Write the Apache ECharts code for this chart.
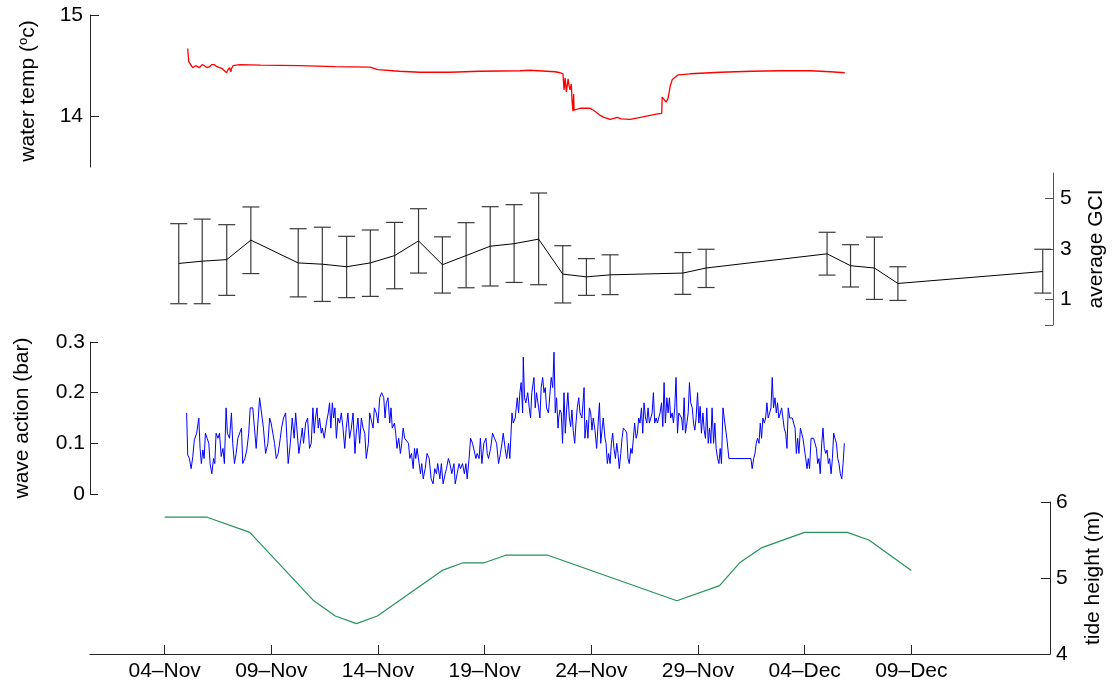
<!DOCTYPE html>
<html>
<head>
<meta charset="utf-8">
<script src="https://cdn.jsdelivr.net/npm/echarts@6/dist/echarts.min.js"></script>
<style>
html,body{margin:0;padding:0;background:#fff;}
#chart{width:1117px;height:686px;}
</style>
</head>
<body>
<div id="chart"></div>
<script>
// x values are days since 04-Nov 00:00
const xMin = -3.5, xMax = 41.5;
const tickDays = [0, 5, 10, 15, 20, 25, 30, 35];
const tickLabels = ['04\u2013Nov', '09\u2013Nov', '14\u2013Nov', '19\u2013Nov', '24\u2013Nov', '29\u2013Nov', '04\u2013Dec', '09\u2013Dec'];

// water temperature (deg C)
const tempDays = [1.08,1.13,1.20,1.31,1.45,1.63,1.75,1.86,2.00,2.10,2.20,2.33,2.45,2.57,2.70,2.80,2.90,2.97,3.04,3.10,3.13,3.20,3.27,3.51,4.5,6.32,8.0,9.62,9.99,11.0,11.96,13.37,14.77,16.65,17.12,18.30,18.55,18.67,18.72,18.77,18.83,18.91,18.96,19.00,19.06,19.10,19.14,19.17,19.19,19.28,19.50,19.94,20.1,20.41,20.6,20.88,21.05,21.21,21.4,21.82,22.3,22.76,23.10,23.30,23.32,23.40,23.51,23.60,23.70,23.79,23.90,24.07,24.63,26.04,27.5,28.86,30.27,31.2,31.88];
const tempVals = [14.67,14.54,14.53,14.48,14.50,14.48,14.51,14.50,14.48,14.49,14.51,14.51,14.49,14.48,14.47,14.45,14.43,14.46,14.48,14.44,14.47,14.50,14.50,14.51,14.505,14.50,14.49,14.485,14.46,14.445,14.435,14.435,14.445,14.45,14.455,14.44,14.43,14.42,14.26,14.38,14.24,14.37,14.30,14.26,14.32,14.14,14.05,14.22,14.06,14.06,14.08,14.08,14.06,14.01,13.99,13.97,13.98,13.99,13.975,13.97,13.99,14.01,14.025,14.03,14.19,14.17,14.14,14.18,14.30,14.36,14.38,14.41,14.42,14.435,14.445,14.45,14.45,14.44,14.43];

// average GCI with error bar limits
const gciDays = [0.66,1.76,2.91,4.04,6.26,7.39,8.53,9.64,10.78,11.90,13.02,14.13,15.26,16.38,17.53,18.66,19.77,20.88,24.29,25.38,31.05,32.15,33.27,34.37,41.16];
const gciMean = [2.43,2.52,2.58,3.35,2.45,2.40,2.30,2.45,2.74,3.32,2.38,2.74,3.11,3.21,3.39,2.01,1.90,1.98,2.05,2.25,2.81,2.34,2.25,1.64,2.11];
const gciHigh = [4.00,4.18,3.96,4.66,3.80,3.86,3.50,3.75,4.05,4.59,3.48,4.04,4.67,4.75,5.21,3.13,2.62,2.77,2.86,2.99,3.66,3.17,3.47,2.30,2.99];
const gciLow  = [0.84,0.84,1.17,2.03,1.11,0.93,1.08,1.13,1.43,2.05,1.26,1.47,1.54,1.68,1.59,0.87,1.17,1.20,1.21,1.48,1.97,1.50,1.01,0.97,1.26];

// wave action (bar)
const waveDays = [1.03,1.08,1.16,1.24,1.32,1.39,1.50,1.60,1.66,1.72,1.79,1.85,1.91,1.99,2.07,2.13,2.21,2.29,2.35,2.41,2.50,2.57,2.65,2.73,2.80,2.88,2.94,3.04,3.13,3.19,3.27,3.35,3.43,3.51,3.60,3.66,3.76,3.85,3.94,4.01,4.13,4.21,4.29,4.37,4.45,4.54,4.63,4.73,4.84,4.92,4.99,5.07,5.15,5.23,5.32,5.42,5.48,5.57,5.67,5.73,5.79,5.89,5.98,6.07,6.14,6.23,6.29,6.39,6.45,6.51,6.61,6.70,6.79,6.87,6.95,7.01,7.07,7.14,7.20,7.26,7.34,7.39,7.48,7.58,7.67,7.73,7.79,7.86,7.92,7.98,8.05,8.12,8.20,8.28,8.36,8.44,8.51,8.59,8.67,8.75,8.83,8.92,8.98,9.06,9.14,9.22,9.30,9.38,9.45,9.55,9.61,9.70,9.77,9.83,9.92,10.00,10.08,10.17,10.27,10.33,10.39,10.47,10.55,10.61,10.67,10.77,10.83,10.89,10.97,11.05,11.11,11.18,11.25,11.33,11.43,11.49,11.57,11.65,11.71,11.77,11.83,11.93,11.99,12.05,12.12,12.21,12.30,12.40,12.49,12.58,12.66,12.74,12.80,12.90,12.97,13.05,13.15,13.21,13.30,13.37,13.46,13.56,13.62,13.71,13.80,13.87,13.96,14.05,14.12,14.18,14.27,14.34,14.43,14.52,14.59,14.65,14.74,14.80,14.87,14.96,15.06,15.12,15.18,15.28,15.37,15.46,15.56,15.65,15.74,15.81,15.87,15.96,16.03,16.12,16.18,16.28,16.34,16.43,16.53,16.59,16.65,16.71,16.78,16.81,16.87,16.93,17.02,17.09,17.15,17.21,17.31,17.37,17.43,17.53,17.59,17.65,17.72,17.78,17.84,17.90,17.99,18.06,18.12,18.19,18.25,18.31,18.37,18.44,18.47,18.53,18.59,18.65,18.72,18.78,18.84,18.90,18.97,19.03,19.09,19.15,19.22,19.28,19.34,19.41,19.47,19.56,19.66,19.70,19.78,19.84,19.91,19.97,20.03,20.09,20.17,20.25,20.31,20.38,20.44,20.50,20.56,20.64,20.69,20.75,20.81,20.88,20.94,21.00,21.06,21.13,21.19,21.25,21.31,21.38,21.44,21.50,21.60,21.66,21.72,21.78,21.85,21.91,21.97,22.03,22.10,22.16,22.22,22.28,22.35,22.41,22.47,22.54,22.60,22.66,22.72,22.79,22.85,22.91,22.97,23.04,23.10,23.16,23.22,23.29,23.35,23.41,23.47,23.54,23.60,23.66,23.72,23.79,23.85,23.91,23.97,24.04,24.10,24.16,24.23,24.29,24.35,24.41,24.48,24.54,24.60,24.66,24.73,24.79,24.85,24.91,24.98,25.04,25.10,25.16,25.23,25.29,25.35,25.41,25.48,25.54,25.60,25.66,25.73,25.79,25.85,25.92,25.98,26.04,26.10,26.17,26.23,26.29,26.35,26.45,27.48,27.54,27.61,27.67,27.73,27.79,27.86,27.92,27.98,28.04,28.11,28.17,28.23,28.29,28.36,28.42,28.48,28.54,28.61,28.67,28.73,28.79,28.86,28.92,28.98,29.04,29.11,29.17,29.23,29.30,29.36,29.42,29.48,29.55,29.61,29.67,29.73,29.80,29.86,29.92,29.98,30.05,30.11,30.17,30.23,30.30,30.36,30.42,30.48,30.55,30.61,30.67,30.73,30.80,30.86,30.92,30.99,31.05,31.11,31.17,31.24,31.30,31.36,31.42,31.49,31.55,31.61,31.67,31.74,31.80,31.86];
const waveVals = [0.16,0.077,0.07,0.05,0.074,0.107,0.12,0.15,0.09,0.06,0.087,0.07,0.12,0.11,0.10,0.06,0.04,0.07,0.06,0.12,0.11,0.12,0.074,0.09,0.06,0.17,0.12,0.11,0.16,0.10,0.06,0.08,0.11,0.11,0.13,0.06,0.07,0.087,0.12,0.17,0.17,0.13,0.09,0.14,0.19,0.16,0.13,0.08,0.10,0.15,0.14,0.12,0.10,0.07,0.08,0.11,0.13,0.15,0.16,0.11,0.06,0.10,0.15,0.11,0.16,0.16,0.08,0.11,0.13,0.10,0.14,0.15,0.09,0.10,0.17,0.12,0.15,0.17,0.13,0.15,0.12,0.13,0.11,0.14,0.16,0.18,0.13,0.18,0.15,0.17,0.11,0.15,0.14,0.16,0.13,0.09,0.13,0.16,0.11,0.13,0.16,0.08,0.12,0.15,0.10,0.15,0.13,0.12,0.07,0.10,0.16,0.16,0.13,0.17,0.16,0.14,0.19,0.20,0.19,0.15,0.18,0.19,0.14,0.17,0.13,0.14,0.12,0.09,0.11,0.08,0.10,0.13,0.11,0.11,0.10,0.07,0.08,0.05,0.09,0.07,0.09,0.06,0.04,0.06,0.03,0.05,0.08,0.07,0.03,0.02,0.05,0.04,0.06,0.03,0.06,0.02,0.04,0.05,0.07,0.06,0.04,0.06,0.02,0.04,0.06,0.05,0.06,0.04,0.06,0.03,0.07,0.11,0.10,0.10,0.07,0.08,0.07,0.11,0.06,0.10,0.11,0.08,0.07,0.09,0.12,0.11,0.10,0.06,0.08,0.10,0.12,0.09,0.07,0.10,0.07,0.16,0.14,0.15,0.19,0.16,0.20,0.22,0.16,0.27,0.19,0.18,0.20,0.17,0.15,0.20,0.23,0.17,0.20,0.17,0.15,0.21,0.23,0.20,0.21,0.17,0.16,0.16,0.23,0.21,0.28,0.16,0.19,0.13,0.15,0.166,0.16,0.10,0.20,0.12,0.166,0.20,0.15,0.133,0.166,0.126,0.10,0.14,0.17,0.19,0.16,0.15,0.21,0.11,0.146,0.11,0.17,0.16,0.126,0.15,0.126,0.09,0.133,0.18,0.10,0.126,0.15,0.11,0.10,0.06,0.08,0.06,0.10,0.12,0.09,0.07,0.10,0.08,0.05,0.08,0.11,0.13,0.126,0.12,0.07,0.06,0.09,0.08,0.11,0.14,0.11,0.12,0.15,0.14,0.17,0.12,0.18,0.15,0.14,0.17,0.14,0.15,0.16,0.20,0.14,0.15,0.14,0.15,0.16,0.18,0.133,0.22,0.14,0.19,0.16,0.19,0.15,0.16,0.14,0.17,0.23,0.12,0.16,0.16,0.15,0.126,0.19,0.12,0.14,0.16,0.22,0.18,0.17,0.14,0.126,0.15,0.20,0.14,0.173,0.12,0.16,0.126,0.11,0.17,0.10,0.13,0.10,0.17,0.10,0.14,0.09,0.07,0.06,0.09,0.06,0.17,0.15,0.13,0.11,0.07,0.07,0.05,0.07,0.08,0.10,0.11,0.10,0.14,0.11,0.15,0.14,0.15,0.18,0.15,0.16,0.17,0.23,0.17,0.19,0.16,0.18,0.15,0.16,0.17,0.15,0.13,0.12,0.09,0.17,0.15,0.15,0.15,0.15,0.13,0.08,0.11,0.08,0.13,0.12,0.11,0.11,0.07,0.05,0.07,0.05,0.11,0.11,0.11,0.11,0.09,0.06,0.07,0.04,0.10,0.13,0.09,0.08,0.087,0.06,0.07,0.04,0.07,0.12,0.11,0.10,0.07,0.06,0.04,0.03,0.06,0.10];

// tide height (m)
const tideDays = [0.00,1.99,3.99,6.99,8.00,8.99,9.97,13.01,13.99,14.98,15.99,17.97,24.01,26.01,26.95,28.00,29.99,32.00,33.01,35.00];
const tideVals = [5.8,5.8,5.6,4.7,4.5,4.4,4.5,5.1,5.2,5.2,5.3,5.3,4.7,4.9,5.2,5.4,5.6,5.6,5.5,5.1];

const zip = (a, b) => a.map((v, i) => [v, b[i]]);
const FONT = '"Liberation Sans", Arial, Helvetica, sans-serif';
const FS = 21;
const AX = '#222';

const chart = echarts.init(document.getElementById('chart'), null, {renderer: 'canvas'});

const grids = [
  {left: 90, right: 67, top: 15, height: 152},
  {left: 90, right: 67, top: 173, height: 152},
  {left: 90, right: 67, top: 342, height: 152},
  {left: 90, right: 67, top: 502, height: 152}
];

function xAxisFor(i, show) {
  return {
    type: 'value', gridIndex: i, min: xMin, max: xMax, show: show,
    splitLine: {show: false},
    axisLine: {show: show, onZero: false, lineStyle: {color: AX, width: 1}},
    axisTick: {show: show, inside: true, length: 9, customValues: tickDays, lineStyle: {color: AX}},
    axisLabel: {
      show: show, customValues: tickDays, margin: 7, color: '#000', fontSize: FS, fontFamily: FONT,
      formatter: v => { const k = tickDays.findIndex(t => Math.abs(t - v) < 1e-6); return k >= 0 ? tickLabels[k] : ''; }
    }
  };
}

function yAxisFor(i, opt, lineColor) {
  return Object.assign({
    type: 'value', gridIndex: i,
    splitLine: {show: false},
    axisLine: {show: true, onZero: false, lineStyle: {color: lineColor || AX, width: 1}},
    nameLocation: 'middle', nameRotate: 90,
    nameTextStyle: {color: '#000', fontSize: FS, fontFamily: FONT,
      rich: {sup: {fontSize: 13, fontFamily: FONT, color: '#000', verticalAlign: 'bottom', padding: [0, 0, 10, 0]}}}
  }, opt);
}

const option = {
  animation: false,
  backgroundColor: '#fff',
  grid: grids,
  xAxis: [xAxisFor(0, false), xAxisFor(1, false), xAxisFor(2, false), xAxisFor(3, true)],
  yAxis: [
    yAxisFor(0, {position: 'left', min: 13.5, max: 15, name: 'water temp ({sup|o}c)', nameGap: 50,
      axisTick: {show: true, inside: true, length: 9, customValues: [14, 15], lineStyle: {color: AX}},
      axisLabel: {customValues: [14, 15], margin: 7, color: '#000', fontSize: FS, fontFamily: FONT}}),
    yAxisFor(1, {position: 'right', offset: 3, min: 0, max: 6, name: 'average GCI', nameGap: 33,
      axisTick: {show: true, inside: true, length: 8, customValues: [0, 1, 3, 5], lineStyle: {color: '#555'}},
      axisLabel: {customValues: [1, 3, 5], margin: 7, color: '#000', fontSize: FS, fontFamily: FONT}}, '#555'),
    yAxisFor(2, {position: 'left', min: 0, max: 0.3, name: 'wave action (bar)', nameGap: 57,
      axisTick: {show: true, inside: true, length: 8, customValues: [0, 0.1, 0.2, 0.3], lineStyle: {color: AX}},
      axisLabel: {customValues: [0, 0.1, 0.2, 0.3], margin: 5, color: '#000', fontSize: FS, fontFamily: FONT,
        formatter: v => (Math.round(v * 10) / 10).toString()}}),
    yAxisFor(3, {position: 'right', min: 4, max: 6, name: 'tide height (m)', nameGap: 33,
      axisTick: {show: true, inside: true, length: 9, customValues: [4, 5, 6], lineStyle: {color: AX}},
      axisLabel: {customValues: [4, 5, 6], margin: 6, color: '#000', fontSize: FS, fontFamily: FONT}})
  ],
  series: [
    {type: 'line', xAxisIndex: 0, yAxisIndex: 0, data: zip(tempDays, tempVals), showSymbol: false, symbol: 'none',
      lineStyle: {color: '#ff0000', width: 1.3}, itemStyle: {color: '#ff0000'}},
    {type: 'custom', xAxisIndex: 1, yAxisIndex: 1,
      data: gciDays.map((d, i) => [d, gciLow[i], gciHigh[i]]),
      encode: {x: 0, y: [1, 2]},
      renderItem: function (params, api) {
        const x = api.value(0);
        const lo = api.coord([x, api.value(1)]);
        const hi = api.coord([x, api.value(2)]);
        const w = 8.5;
        const st = {stroke: '#3a3a3a', lineWidth: 1.2};
        return {type: 'group', children: [
          {type: 'line', shape: {x1: lo[0], y1: lo[1], x2: hi[0], y2: hi[1]}, style: st},
          {type: 'line', shape: {x1: lo[0] - w, y1: lo[1], x2: lo[0] + w, y2: lo[1]}, style: st},
          {type: 'line', shape: {x1: hi[0] - w, y1: hi[1], x2: hi[0] + w, y2: hi[1]}, style: st}
        ]};
      }},
    {type: 'line', xAxisIndex: 1, yAxisIndex: 1, data: zip(gciDays, gciMean), showSymbol: false, symbol: 'none',
      lineStyle: {color: '#000', width: 1}, itemStyle: {color: '#000'}},
    {type: 'line', xAxisIndex: 2, yAxisIndex: 2, data: zip(waveDays, waveVals), showSymbol: false, symbol: 'none',
      lineStyle: {color: '#0000ff', width: 1}, itemStyle: {color: '#0000ff'}},
    {type: 'line', xAxisIndex: 3, yAxisIndex: 3, data: zip(tideDays, tideVals), showSymbol: false, symbol: 'none',
      lineStyle: {color: '#24935a', width: 1.2}, itemStyle: {color: '#24935a'}}
  ]
};
chart.setOption(option);
</script>
</body>
</html>
